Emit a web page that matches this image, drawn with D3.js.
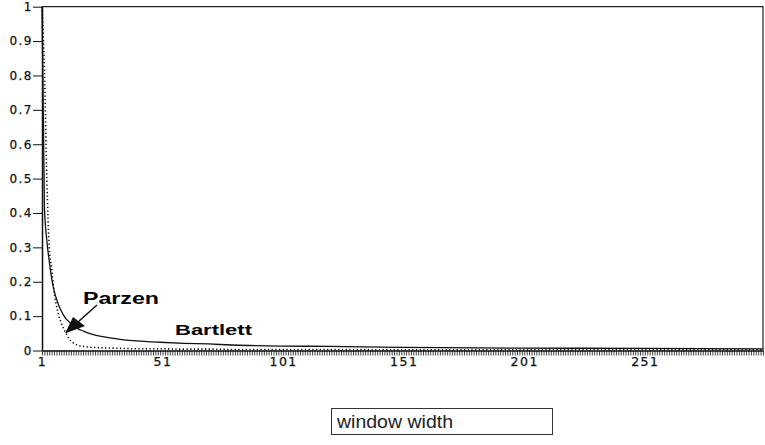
<!DOCTYPE html>
<html>
<head>
<meta charset="utf-8">
<script src="https://cdn.jsdelivr.net/npm/d3@7"></script>
<style>
  body { margin: 0; background: #fff; }
  .axis text { font-family: "DejaVu Sans", sans-serif; font-size: 12px; letter-spacing: 1.5px; fill: #111; stroke: #111; stroke-width: 0.25px; }
  .axis path, .axis line { stroke: #111; }
</style>
</head>
<body>
<script>
// window widths and the two curves
var windowWidth = [1, 2, 3, 4, 5, 6, 7, 8, 9, 10, 11, 12, 13, 14, 15, 16, 18, 20, 22, 25,
                   30, 35, 40, 50, 60, 70, 80, 100, 120, 150, 200, 250, 300];
var bartlett = [1, 0.42, 0.32, 0.26, 0.21, 0.175, 0.15, 0.13, 0.115, 0.102, 0.092, 0.085, 0.078, 0.072, 0.067, 0.063, 0.057, 0.051, 0.047, 0.042,
                0.036, 0.031, 0.028, 0.024, 0.021, 0.019, 0.016, 0.013, 0.012, 0.009, 0.007, 0.006, 0.005];
var parzen = [1, 0.82, 0.5, 0.3, 0.24, 0.17, 0.13, 0.1, 0.08, 0.063, 0.05, 0.036, 0.028, 0.022, 0.018, 0.015, 0.012, 0.01, 0.009, 0.008,
              0.007, 0.006, 0.005, 0.005, 0.004, 0.004, 0.003, 0.003, 0.003, 0.002, 0.002, 0.002, 0.002];

var yTicks = [0, 0.1, 0.2, 0.3, 0.4, 0.5, 0.6, 0.7, 0.8, 0.9, 1];
var xLabels = [1, 51, 101, 151, 201, 251];

var width = 765, height = 445;

var svg = d3.select("body").append("svg")
    .attr("width", width)
    .attr("height", height);

// scales
var x = d3.scaleLinear().domain([1, 300]).range([42, 763]);
var y = d3.scaleLinear().domain([0, 1]).range([350.5, 6.7]);

// frame (top and right)
svg.append("path")
    .attr("d", "M" + x(1) + "," + y(1) + "H" + x(300) + "V" + y(0))
    .attr("fill", "none")
    .attr("stroke", "#222")
    .attr("stroke-width", 1.2);

// y axis
svg.append("g")
    .attr("class", "axis")
    .attr("transform", "translate(" + x(1) + ",0)")
    .call(d3.axisLeft(y).tickValues(yTicks).tickSize(9).tickSizeOuter(0)
        .tickFormat(function(d) { return d3.format("")(d); }))
    .call(function(g) { g.select(".domain").attr("stroke-width", 1.5); })
    .selectAll("text").attr("x", -9);

// x axis: a tick for every window width
svg.append("g")
    .attr("class", "axis")
    .attr("transform", "translate(0," + y(0) + ")")
    .call(d3.axisBottom(x).tickValues(d3.range(1, 301)).tickSize(5).tickSizeOuter(0)
        .tickFormat(function(d) { return xLabels.indexOf(d) >= 0 ? d : ""; }))
    .call(function(g) {
        g.select(".domain").attr("stroke-width", 1.5);
        g.selectAll(".tick line").attr("stroke-width", 0.8);
        g.selectAll("text").attr("y", 7).style("font-size", "12.5px");
    });

// curves
var line = d3.line()
    .x(function(d) { return x(d[0]); })
    .y(function(d) { return y(d[1]); })
    .curve(d3.curveMonotoneX);

svg.append("path")
    .datum(windowWidth.map(function(m, i) { return [m, bartlett[i]]; }))
    .attr("d", line)
    .attr("fill", "none")
    .attr("stroke", "#111")
    .attr("stroke-width", 1.3);

svg.append("path")
    .datum(windowWidth.map(function(m, i) { return [m, parzen[i]]; }))
    .attr("d", line)
    .attr("fill", "none")
    .attr("stroke", "#111")
    .attr("stroke-width", 1.6)
    .attr("stroke-dasharray", "1.3,2.4");

// labels
svg.append("text")
    .attr("x", 83).attr("y", 304)
    .attr("textLength", 76).attr("lengthAdjust", "spacingAndGlyphs")
    .style("font-family", "Liberation Sans, Arial, sans-serif")
    .style("font-weight", "bold").style("font-size", "16px")
    .text("Parzen");

svg.append("text")
    .attr("x", 175).attr("y", 335)
    .attr("textLength", 77).attr("lengthAdjust", "spacingAndGlyphs")
    .style("font-family", "Liberation Sans, Arial, sans-serif")
    .style("font-weight", "bold").style("font-size", "14.5px")
    .text("Bartlett");

// arrow from Parzen label to the curve
svg.append("line")
    .attr("x1", 97).attr("y1", 305)
    .attr("x2", 78).attr("y2", 322)
    .attr("stroke", "#111").attr("stroke-width", 1.5);
svg.append("path")
    .attr("d", "M65,333.5 L73,317 L85,326 Z")
    .attr("fill", "#111");

// window width box
svg.append("rect")
    .attr("x", 331.5).attr("y", 408.5)
    .attr("width", 221).attr("height", 26)
    .attr("fill", "none")
    .attr("stroke", "#333")
    .attr("stroke-width", 1);

svg.append("text")
    .attr("x", 337).attr("y", 428)
    .attr("textLength", 116).attr("lengthAdjust", "spacingAndGlyphs")
    .style("font-family", "Liberation Sans Narrow, Liberation Sans, sans-serif")
    .style("font-size", "19px")
    .style("font-weight", "300")
    .style("fill", "#222")
    .text("window  width");
</script>
</body>
</html>
